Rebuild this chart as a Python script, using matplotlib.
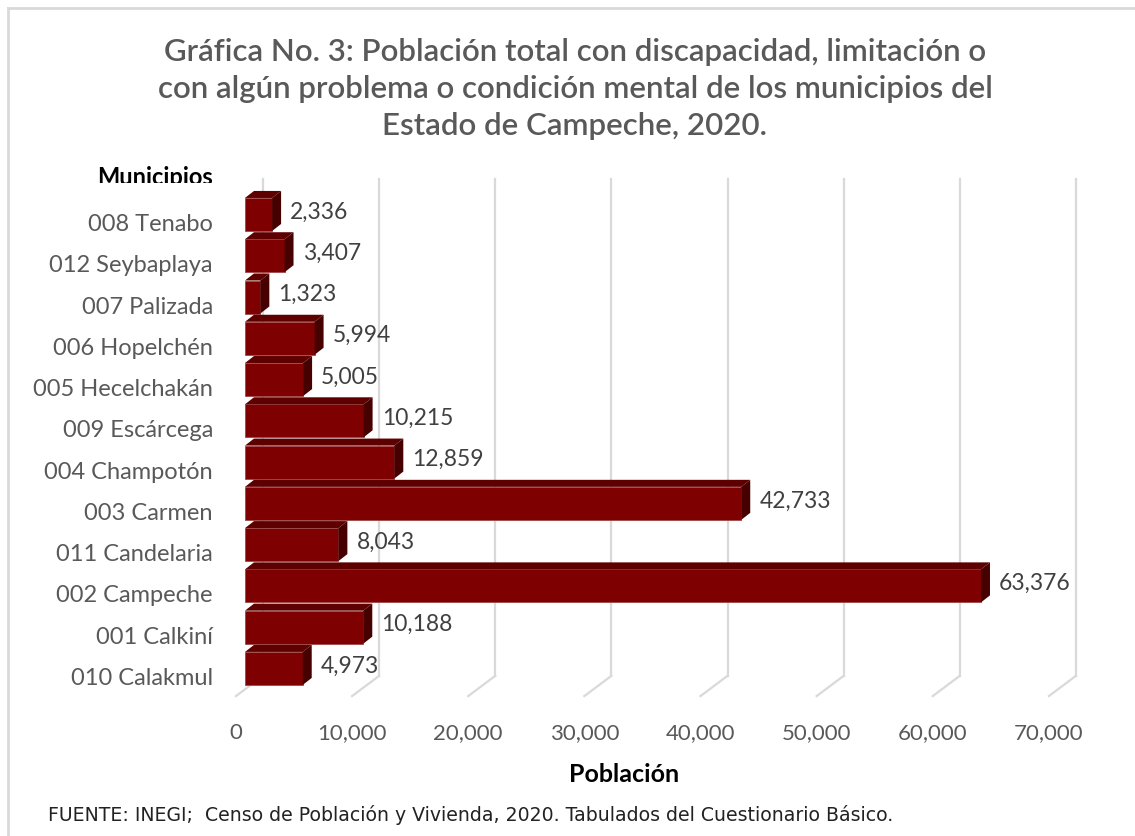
import matplotlib.pyplot as plt
from matplotlib.patches import Polygon
from matplotlib.lines import Line2D
from matplotlib.transforms import Bbox

# Data
municipios = ["008 Tenabo", "012 Seybaplaya", "007 Palizada", "006 Hopelchén",
              "005 Hecelchakán", "009 Escárcega", "004 Champotón", "003 Carmen",
              "011 Candelaria", "002 Campeche", "001 Calkiní", "010 Calakmul"]
poblacion = [2336, 3407, 1323, 5994, 5005, 10215, 12859, 42733, 8043, 63376, 10188, 4973]
ticks = [0, 10000, 20000, 30000, 40000, 50000, 60000, 70000]
tick_labels = ["0", "10,000", "20,000", "30,000", "40,000", "50,000", "60,000", "70,000"]

titulo = ("Gráfica No. 3: Población total con discapacidad, limitación o\n"
          "con algún problema o condición mental de los municipios del\n"
          "Estado de Campeche, 2020.")
fuente = "FUENTE: INEGI;  Censo de Población y Vivienda, 2020. Tabulados del Cuestionario Básico."

plt.rcParams['font.family'] = ['Lato', 'DejaVu Sans']

fig = plt.figure(figsize=(11.35, 8.37), dpi=100)
ax = fig.add_axes([0.1749, 0.1509, 0.7981, 0.6459])
ax.set_xlim(-4000, 74000)
ax.set_ylim(12.0, -1.1)
ax.axis('off')

# pseudo 3D offsets (data units)
bar_dx, bar_dy = 775, 0.17      # depth of each bar
wall_dx = 1550                  # back wall offset
floor_dx, floor_dy = 2325, 0.49 # floor depth
grid_top, grid_bot = -0.86, 11.18
h = 0.8

grid_col = '#d9d9d9'
for t in ticks:
    ax.plot([t + wall_dx, t + wall_dx], [grid_top, grid_bot], color=grid_col, lw=1.6, zorder=1)
    ax.plot([t + wall_dx, t + wall_dx - floor_dx], [grid_bot, grid_bot + floor_dy],
            color=grid_col, lw=1.6, zorder=1)

for t, lab in zip(ticks, tick_labels):
    ax.text(t + wall_dx - floor_dx, 12.54, lab, ha='center', va='center',
            fontsize=16, color='#595959')

ys = list(range(len(municipios)))
ax.barh(ys, poblacion, height=h, color='#7f0000', edgecolor='#a04848', lw=0.6, zorder=3)
for y, v in zip(ys, poblacion):
    top = Polygon([(0, y - h/2), (v, y - h/2), (v + bar_dx, y - h/2 - bar_dy),
                   (bar_dx, y - h/2 - bar_dy)], closed=True, fc='#5e0000', ec='none', zorder=3)
    side = Polygon([(v, y - h/2), (v + bar_dx, y - h/2 - bar_dy),
                    (v + bar_dx, y + h/2 - bar_dy), (v, y + h/2)],
                   closed=True, fc='#470000', ec='none', zorder=3)
    ax.add_patch(top)
    ax.add_patch(side)
    ax.annotate(f"{v:,}", (v, y), xytext=(13, 2.5), textcoords='offset points',
                ha='left', va='center', fontsize=16.5, color='#404040')
    ax.text(-2755, y + 0.22, municipios[y], ha='right', va='center',
            fontsize=17, color='#595959')

fig.text(0.5066, 1 - 89/837, titulo, ha='center', va='center', fontsize=22.5,
         color='#595959', linespacing=1.4, fontweight='semibold')

m = fig.text(155/1135, 1 - 178/837, "Municipios", ha='center', va='center',
             fontsize=17, fontweight='bold', color='black')
m.set_clip_box(Bbox([[0, 837 - 184], [1135, 837]]))
m.set_clip_on(True)

fig.text(624/1135, 1 - 775/837, "Población", ha='center', va='center',
         fontsize=18, fontweight='bold', color='black')
fig.text(48/1135, 1 - 815/837, fuente, ha='left', va='center', fontsize=13.6,
         color='#222222', family=['DejaVu Sans'])

# chart frame (only left and top edges visible)
fig.add_artist(Line2D([8/1135, 8/1135], [0, 1 - 9/837], transform=fig.transFigure,
                      color='#d9d9d9', lw=2))
fig.add_artist(Line2D([8/1135, 1], [1 - 9/837, 1 - 9/837], transform=fig.transFigure,
                      color='#d9d9d9', lw=2))

fig.savefig('out.png', dpi=100)
